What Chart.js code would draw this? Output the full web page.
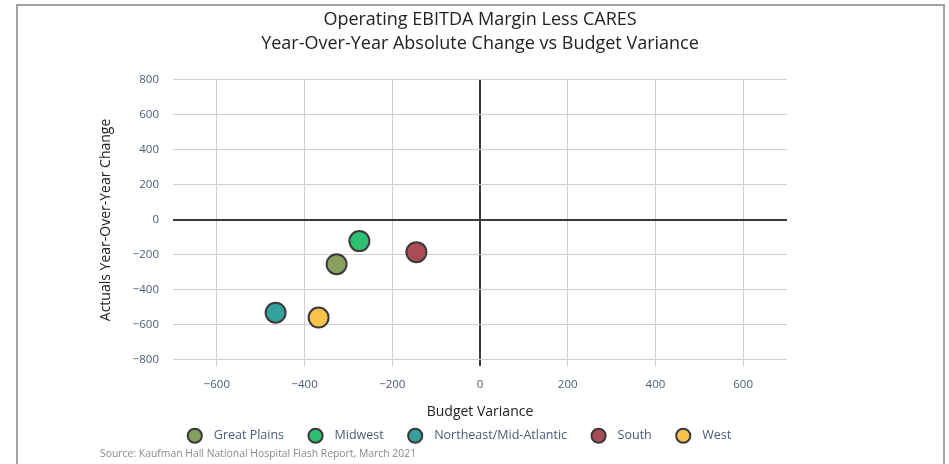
<!DOCTYPE html>
<html>
<head>
<meta charset="utf-8">
<script src="https://cdn.jsdelivr.net/npm/chart.js@4/dist/chart.umd.min.js"></script>
<style>
  html, body { margin: 0; padding: 0; background: #fff; }
  #wrap { position: relative; width: 949px; height: 464px; }
  #frame { position: absolute; left: 16px; top: 4px; width: 925px; height: 470px;
           border: 2px solid #a3a39b; border-bottom: none; pointer-events: none; }
  #source { position: absolute; left: 100px; top: 446px; font: 10.4px "Open Sans", sans-serif; color: #8a8a8a; }
</style>
</head>
<body>
<div id="wrap">
  <canvas id="chart" width="949" height="464"></canvas>
  <div id="frame"></div>
  <div id="source">Source: Kaufman Hall National Hospital Flash Report, March 2021</div>
</div>
<script>
const regions = ["Great Plains", "Midwest", "Northeast/Mid-Atlantic", "South", "West"];
const budgetVariance = [-327, -275, -466, -145, -368];
const yoyChange = [-253, -121, -530, -184, -558];
const colors = ["#87a060", "#2fbf71", "#35a19c", "#a94c55", "#f8c24d"];
const xTicks = [-600, -400, -200, 0, 200, 400, 600];

const TICK = "#4b5a78";
const GRID = "#cfcfcf";
const ZERO = "#3a3a3a";
const FONT = "'Open Sans', sans-serif";

const fmt = (v) => String(v).replace("-", "\u2212");

new Chart(document.getElementById("chart"), {
  type: "scatter",
  data: {
    datasets: regions.map((name, i) => ({
      label: name,
      data: [{ x: budgetVariance[i], y: yoyChange[i] }],
      backgroundColor: colors[i],
      borderColor: "#3a3a3a",
      borderWidth: 2,
      pointRadius: 10,
      pointHoverRadius: 10,
    })),
  },
  options: {
    responsive: false, animation: false,
    layout: { padding: { left: 98, right: 111, top: 0, bottom: 12 } },
    scales: {
      x: {
        min: -700, max: 700,
        afterBuildTicks: (axis) => { axis.ticks = xTicks.map((v) => ({ value: v })); },
        grid: {
          color: (c) => (c.tick && c.tick.value === 0 ? ZERO : GRID),
          lineWidth: (c) => (c.tick && c.tick.value === 0 ? 2 : 1),
          tickLength: 6,
        },
        border: { display: false },
        ticks: { color: TICK, font: { family: FONT, size: 11.5 }, padding: 12, callback: (v) => fmt(v) },
        title: { display: true, text: "Budget Variance", color: "#222", font: { family: FONT, size: 14 }, padding: { top: 0, bottom: 0 } },
      },
      y: {
        min: -800, max: 800,
        ticks: { stepSize: 200, color: TICK, font: { family: FONT, size: 11.5 }, padding: 14, callback: (v) => fmt(v) },
        grid: {
          color: (c) => (c.tick && c.tick.value === 0 ? ZERO : GRID),
          lineWidth: (c) => (c.tick && c.tick.value === 0 ? 2 : 1),
          drawTicks: false,
        },
        border: { display: false },
        title: { display: true, text: "Actuals Year-Over-Year Change", color: "#222", font: { family: FONT, size: 14 }, padding: 0 },
        afterFit: (axis) => { axis.width = 75; },
      },
      // 오른쪽 여백용 빈 축
      y2: {
        position: "right", display: true,
        grid: { display: false }, border: { display: false },
        ticks: { display: false },
        afterFit: (axis) => { axis.width = 51; },
      },
    },
    plugins: {
      title: {
        display: true, fullSize: false,
        text: ["Operating EBITDA Margin Less CARES", "Year-Over-Year Absolute Change vs Budget Variance"],
        color: "#222", font: { family: FONT, size: 18, weight: "normal", lineHeight: 1.333 },
        padding: { top: 8, bottom: 24 },
      },
      legend: {
        position: "bottom",
        labels: {
          color: TICK, font: { family: FONT, size: 12.5 },
          usePointStyle: true, pointStyle: "circle", boxWidth: 14, boxHeight: 10, padding: 9,
          // 항목 간격은 공백으로 벌림 (padding 키우면 위 여백도 커짐)
          generateLabels: (chart) => Chart.defaults.plugins.legend.labels.generateLabels(chart)
            .map((l) => ({ ...l, text: "  " + l.text + "     " })),
        },
      },
      tooltip: { enabled: false },
    },
  },
});
</script>
</body>
</html>
